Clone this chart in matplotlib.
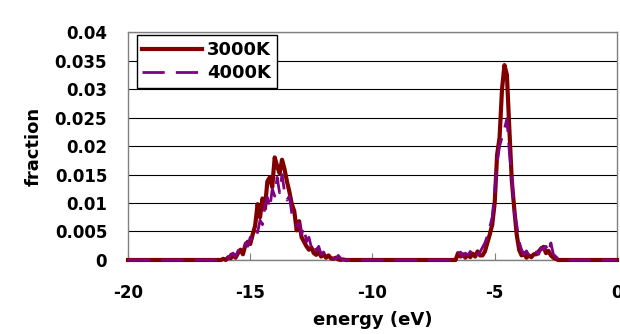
import numpy as np
import matplotlib.pyplot as plt

# energy grid (eV), 0.1 eV bins
energy = np.round(np.arange(-20.0, 0.001, 0.1), 1)

# band 1: -16.2 .. -11.0 eV
band1_start = -16.2
dos_3000_band1 = [
    0.0, 0.0002, 0.0, 0.0005, 0.0003, 0.0008, 0.0004, 0.0012, 0.0018, 0.0010,
    0.0026, 0.0032, 0.0028, 0.0045, 0.0060, 0.0098, 0.0075, 0.0108, 0.0090, 0.0138,
    0.0145, 0.0128, 0.0180, 0.0165, 0.0152, 0.0176, 0.0160, 0.0138, 0.0120, 0.0098,
    0.0086, 0.0052, 0.0068, 0.0040, 0.0032, 0.0024, 0.0018, 0.0022, 0.0012, 0.0009,
    0.0015, 0.0006, 0.0010, 0.0004, 0.0008, 0.0003, 0.0002, 0.0004, 0.0001, 0.0,
    0.0001, 0.0, 0.0,
]
dos_4000_band1 = [
    0.0, 0.0003, 0.0006, 0.0002, 0.0010, 0.0012, 0.0006, 0.0016, 0.0022, 0.0015,
    0.0030, 0.0024, 0.0040, 0.0035, 0.0052, 0.0048, 0.0070, 0.0062, 0.0095, 0.0110,
    0.0090, 0.0125, 0.0112, 0.0145, 0.0118, 0.0150, 0.0120, 0.0105, 0.0112, 0.0082,
    0.0075, 0.0060, 0.0065, 0.0045, 0.0058, 0.0032, 0.0040, 0.0022, 0.0030, 0.0016,
    0.0024, 0.0010, 0.0014, 0.0006, 0.0010, 0.0004, 0.0003, 0.0002, 0.0008, 0.0003,
    0.0, 0.0, 0.0,
]

# band 2: -6.6 .. -2.4 eV
band2_start = -6.6
dos_3000_band2 = [
    0.0, 0.0012, 0.0006, 0.0010, 0.0004, 0.0009, 0.0005, 0.0011, 0.0006, 0.0015,
    0.0008, 0.0008, 0.0015, 0.0030, 0.0045, 0.0062, 0.0100, 0.0185, 0.0215, 0.0300,
    0.0342, 0.0325, 0.0230, 0.0140, 0.0090, 0.0045, 0.0018, 0.0008, 0.0012, 0.0004,
    0.0008, 0.0005, 0.0010, 0.0010, 0.0015, 0.0020, 0.0023, 0.0012, 0.0016, 0.0008,
    0.0004, 0.0002, 0.0,
]
dos_4000_band2 = [
    0.0002, 0.0008, 0.0014, 0.0006, 0.0012, 0.0008, 0.0015, 0.0010, 0.0018, 0.0009,
    0.0014, 0.0022, 0.0030, 0.0042, 0.0058, 0.0075, 0.0120, 0.0170, 0.0200, 0.0215,
    0.0230, 0.0248, 0.0190, 0.0145, 0.0085, 0.0062, 0.0032, 0.0018, 0.0010, 0.0016,
    0.0008, 0.0012, 0.0006, 0.0014, 0.0010, 0.0022, 0.0018, 0.0024, 0.0012, 0.0030,
    0.0010, 0.0006, 0.0002,
]

series_labels = ["3000K", "4000K"]
y_ticks = [0, 0.005, 0.01, 0.015, 0.02, 0.025, 0.03, 0.035, 0.04]
y_tick_labels = ["0", "0.005", "0.01", "0.015", "0.02", "0.025", "0.03", "0.035", "0.04"]
x_ticks = [-20, -15, -10, -5, 0]


def assemble(band1, band2):
    """Place the two band segments onto the full energy grid (zero elsewhere)."""
    dos = np.zeros_like(energy)
    i1 = int(np.argmin(np.abs(energy - band1_start)))
    i2 = int(np.argmin(np.abs(energy - band2_start)))
    dos[i1:i1 + len(band1)] = band1
    dos[i2:i2 + len(band2)] = band2
    return dos


dos_3000 = assemble(dos_3000_band1, dos_3000_band2)
dos_4000 = assemble(dos_4000_band1, dos_4000_band2)

plt.rcParams["font.family"] = ["DejaVu Sans"]
plt.rcParams["font.weight"] = "bold"

fig = plt.figure(figsize=(6.2, 3.34), dpi=100)
ax = fig.add_axes([0.2065, 0.2216, 0.7885, 0.6824])

ax.plot(energy, dos_3000, color="#800000", lw=3.0, label=series_labels[0],
        clip_on=False, zorder=3)
ax.plot(energy, dos_4000, color="#800080", lw=2.0, dashes=(8, 4),
        label=series_labels[1], clip_on=False, zorder=4)

ax.set_xlim(-20, 0)
ax.set_ylim(0, 0.04)
ax.set_yticks(y_ticks)
ax.set_yticklabels(y_tick_labels)
ax.set_xticks(x_ticks)
ax.set_xticklabels([str(t) for t in x_ticks])

ax.yaxis.grid(True, color="black", lw=0.8)
ax.set_axisbelow(True)
for s in ax.spines.values():
    s.set_color("#808080")
    s.set_linewidth(1.0)

ax.tick_params(axis="y", length=0, pad=15, labelsize=12)
ax.tick_params(axis="x", direction="in", length=5, color="#808080",
               pad=17, labelsize=12)

ax.set_xlabel("energy (eV)", fontsize=13, fontweight="bold", labelpad=7)
ax.set_ylabel("fraction", fontsize=13, fontweight="bold", labelpad=9)

leg = ax.legend(loc="upper left", bbox_to_anchor=(0.018, 0.985), fontsize=13,
                handlelength=3.3, frameon=True, fancybox=False,
                borderpad=0.3, labelspacing=0.3, handletextpad=0.3,
                borderaxespad=0.0)
leg.get_frame().set_edgecolor("black")
leg.get_frame().set_linewidth(1.0)
leg.get_frame().set_alpha(1.0)

fig.savefig("out.png", dpi=100)
